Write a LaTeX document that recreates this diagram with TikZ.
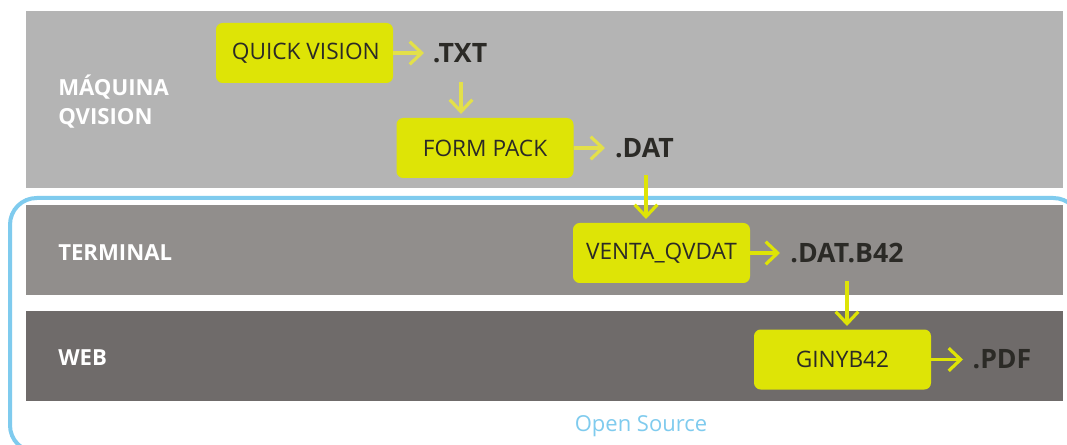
\documentclass[tikz,border=0pt]{standalone}
\usepackage{fontspec}
\setmainfont{Open Sans}
\usetikzlibrary{arrows.meta}
\definecolor{bandA}{HTML}{B4B4B4}
\definecolor{bandB}{HTML}{918E8C}
\definecolor{bandC}{HTML}{6F6B6A}
\definecolor{lime}{HTML}{DEE406}
\definecolor{palelime}{HTML}{E3E04A}
\definecolor{sky}{HTML}{7FCBEE}
\definecolor{ink}{HTML}{2B2A26}
\tikzset{
  x=0.75pt,y=-0.75pt,
  band/.style={draw=none,inner sep=0pt,minimum width=777.75pt,anchor=north west},
  boxnode/.style={fill=lime,rounded corners=5pt,inner sep=0pt,minimum width=132.75pt,minimum height=45pt,text=ink,font=\fontsize{17}{20}\selectfont},
  ext/.style={text=ink,font=\fontsize{20}{24}\selectfont\bfseries,inner sep=0pt},
  lane/.style={text=white,font=\fontsize{16.6}{22}\selectfont\bfseries,inner sep=0pt,anchor=west,align=left},
  flow/.style={draw=lime,line width=2.4pt,-{Straight Barb[length=9pt,width=17pt,line width=2.4pt]}},
}
\begin{document}
\begin{tikzpicture}
\useasboundingbox (0,0) rectangle (1067,445);
\fill[white] (0,0) rectangle (1067,445);
\node[band,fill=bandA,minimum height=132.75pt] (maq) at (26,11) {};
\node[band,fill=bandB,minimum height=67.5pt] (ter) at (26,205) {};
\node[band,fill=bandC,minimum height=67.5pt] (web) at (26,311) {};
\begin{scope}
\clip (0,0) rectangle (1067,445);
\draw[sky,line width=3pt,rounded corners=20pt] (1080,240) -- (1080,198) -- (10,198) -- (10,452) -- (1080,452) -- (1080,400);
\end{scope}
\node[lane] (lm) at (58,101.5) {MÁQUINA\\QVISION};
\node[lane] (lt) at (58,253) {TERMINAL};
\node[lane] (lw) at (58,358) {WEB};
\node[boxnode] (qv) at (304.5,53) {\kern2pt QUICK VISION};
\node[boxnode] (fp) at (485,148) {FORM PACK};
\node[boxnode] (vq) at (661.5,253) {VENTA\_QVDAT};
\node[boxnode] (gy) at (842.5,359.5) {GINYB42};
\node[ext] (txt) at (460,53) {.TXT};
\node[ext] (dat) at (644.5,148) {.DAT};
\node[ext] (b42) at (847,253) {.DAT.B42};
\node[ext] (pdf) at (1002,359) {.PDF};
\coordinate (a1) at (461,82);
\coordinate (a2) at (461,114);
\coordinate (b1) at (646,175);
\coordinate (b2) at (646,219);
\coordinate (c1) at (847,281);
\coordinate (c2) at (847,326);
\coordinate (d2) at (424,53);
\coordinate (e2) at (605,148);
\coordinate (f2) at (780,253);
\coordinate (g2) at (963,359.5);
\draw[flow,draw=palelime] (qv.east) -- (d2);
\draw[flow,draw=palelime] (a1) -- (a2);
\draw[flow,draw=palelime] (fp.east) -- (e2);
\draw[flow] (b1) -- (b2);
\draw[flow] (vq.east) -- (f2);
\draw[flow] (c1) -- (c2);
\draw[flow] (gy.east) -- (g2);
\node[text=sky,font=\fontsize{16.5}{20}\selectfont,inner sep=0pt] (os) at (641,426) {Open Source};
\end{tikzpicture}
\end{document}
